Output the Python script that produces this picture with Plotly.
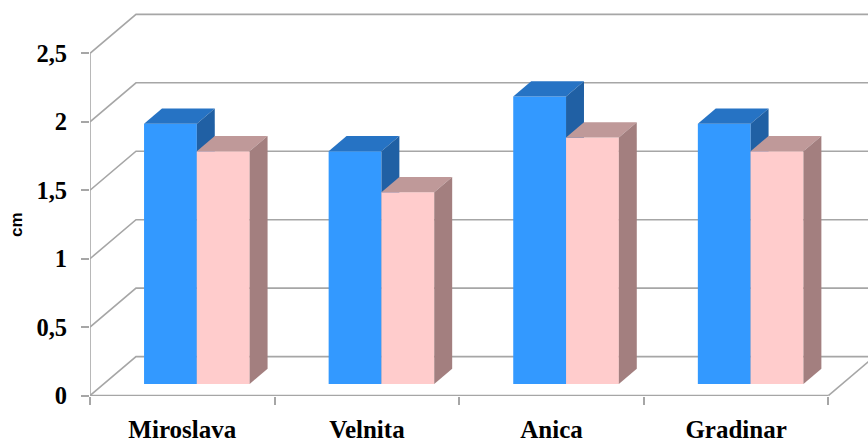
import plotly.graph_objects as go

categories = ["Miroslava", "Velnita", "Anica", "Gradinar"]
blue_values = [1.9, 1.7, 2.1, 1.9]
pink_values = [1.7, 1.4, 1.8, 1.7]
y_ticks = [0, 0.5, 1, 1.5, 2, 2.5]
y_tick_labels = ["0", "0,5", "1", "1,5", "2", "2,5"]

W, H = 868, 442
PLOT_L, PLOT_B = 90, 46
X_SCALE = 184.6   # pixels per category
Y_SCALE = 136.9   # pixels per unit of cm
ORIGIN_Y = 395.6

# Oblique projection: how far the back wall is shifted, in axis units
DEPTH_X = 46 / X_SCALE
DEPTH_Y = 39 / Y_SCALE
BAR_W = 52.8 / X_SCALE
BAR_D0, BAR_D1 = 0.30, 0.69

GRID = "#a6a6a6"
FONT = "Liberation Serif"


def proj(x, y, d):
    return x + d * DEPTH_X, y + d * DEPTH_Y


def poly(points, color):
    xs = [p[0] for p in points] + [points[0][0]]
    ys = [p[1] for p in points] + [points[0][1]]
    return go.Scatter(x=xs, y=ys, mode="lines", fill="toself", fillcolor=color,
                      line=dict(width=0, color=color), hoverinfo="skip", showlegend=False)


def line(xs, ys, clip=True):
    return go.Scatter(x=xs, y=ys, mode="lines", line=dict(color=GRID, width=1.6),
                      hoverinfo="skip", showlegend=False, cliponaxis=clip)


def bar(x0, value, front, top, side):
    x1 = x0 + BAR_W
    p = proj
    return [
        poly([p(x0, 0, BAR_D0), p(x1, 0, BAR_D0), p(x1, value, BAR_D0), p(x0, value, BAR_D0)], front),
        poly([p(x0, value, BAR_D0), p(x1, value, BAR_D0), p(x1, value, BAR_D1), p(x0, value, BAR_D1)], top),
        poly([p(x1, 0, BAR_D0), p(x1, 0, BAR_D1), p(x1, value, BAR_D1), p(x1, value, BAR_D0)], side),
    ]


fig = go.Figure()

# Walls: each gridline runs up the side wall and along the back wall
n = len(categories)
for v in y_ticks:
    bx, by = proj(0, v, 1)
    ex, ey = proj(n, v, 1)
    fig.add_trace(line([0, bx, ex], [v, by, ey], clip=False if v == 0 else True))

# Floor edge on the right, front axis line and vertical axis line
rx, ry = proj(n, 0, 1)
fig.add_trace(line([n, rx], [0, ry]))
fig.add_trace(line([0, n], [0, 0], clip=False))
fig.add_trace(line([0, 0], [0, y_ticks[-1]], clip=False))

# Bars, left to right
for i, (b, r) in enumerate(zip(blue_values, pink_values)):
    left = i + 0.5 - BAR_W + 0.004
    for tr in bar(left, b, "#3399ff", "#2673c4", "#2060a4"):
        fig.add_trace(tr)
    for tr in bar(left + BAR_W, r, "#ffcccc", "#bf9999", "#a37f7f"):
        fig.add_trace(tr)

fig.add_annotation(text="cm", xref="paper", yref="y", x=(16 - PLOT_L) / (W - PLOT_L), y=(ORIGIN_Y - 225) / Y_SCALE,
                   textangle=-90, showarrow=False, xanchor="center", yanchor="middle",
                   font=dict(family="Liberation Sans", size=17, color="#000000", weight="bold"))

fig.update_layout(
    width=W, height=H, autosize=False,
    margin=dict(l=PLOT_L, r=0, t=0, b=PLOT_B, pad=0),
    paper_bgcolor="white", plot_bgcolor="white", showlegend=False,
    xaxis=dict(
        automargin=False,
        range=[0, (W - PLOT_L) / X_SCALE], showgrid=False, zeroline=False, showline=False,
        tickvals=[i + 0.5 for i in range(n)], ticktext=categories,
        ticks="outside", ticklen=11, tickcolor="rgba(0,0,0,0)",
        tickfont=dict(family=FONT, size=25, color="#000000", weight="bold"),
        minor=dict(tickvals=list(range(n + 1)), ticks="outside", ticklen=8, tickcolor=GRID, tickwidth=1.6, showgrid=False),
    ),
    yaxis=dict(
        automargin=False,
        range=[(ORIGIN_Y - (H - PLOT_B)) / Y_SCALE, ORIGIN_Y / Y_SCALE],
        showgrid=False, zeroline=False, showline=False,
        tickvals=y_ticks, ticktext=y_tick_labels,
        ticks="outside", ticklen=8, tickcolor=GRID, tickwidth=1.6, ticklabelstandoff=9,
        tickfont=dict(family=FONT, size=24.5, color="#000000", weight="bold"),
    ),
)

fig.write_html("out.html")
